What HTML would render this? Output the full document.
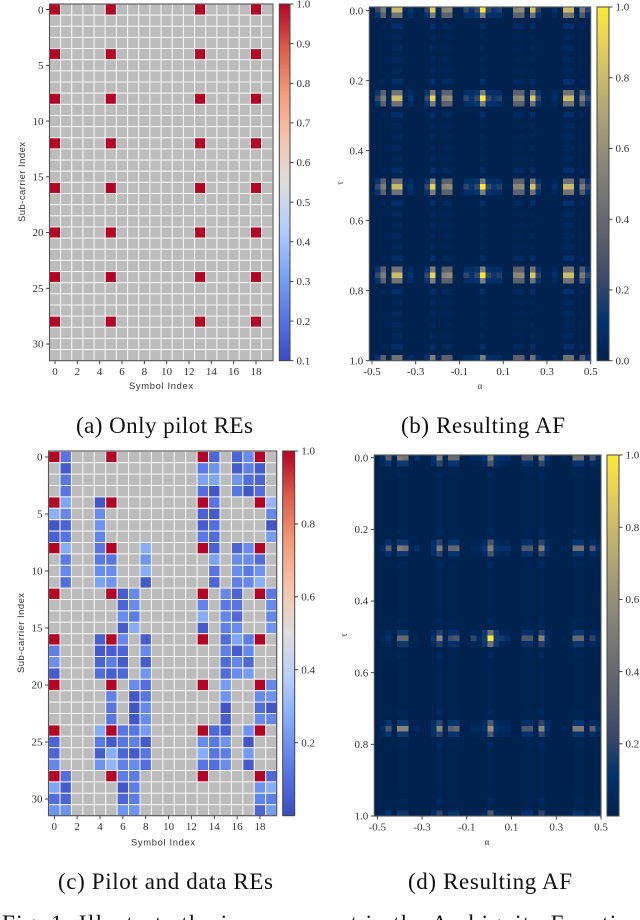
<!DOCTYPE html>
<html lang="en">
<head>
<meta charset="utf-8">
<title>Pilot patterns and ambiguity functions</title>
<style>
html,body{margin:0;padding:0;background:#fff;width:640px;height:920px;overflow:hidden}
svg{display:block}
text{font-family:"Liberation Serif",serif;fill:#333}
.caption{font-size:23px;fill:#111}
.sans{font-family:"Liberation Sans",sans-serif;fill:#333}
</style>
</head>
<body>
<svg id="fig" xmlns="http://www.w3.org/2000/svg" width="640" height="920" viewBox="0 0 640 920">
  <defs>
    <linearGradient id="coolwarm-gradient" x1="0" y1="1" x2="0" y2="0"></linearGradient>
    <linearGradient id="cividis-gradient" x1="0" y1="1" x2="0" y2="0"></linearGradient>
  </defs>
  <text class="caption" x="76" y="433" textLength="177">(a) Only pilot REs</text>
  <text class="caption" x="401" y="433" textLength="164">(b) Resulting AF</text>
  <text class="caption" x="58" y="889" textLength="215">(c) Pilot and data REs</text>
  <text class="caption" x="408" y="889" textLength="164">(d) Resulting AF</text>
  <text class="caption" x="2" y="931" textLength="640">Fig. 1: Illustrate the improvement in the Ambiguity Function</text>
</svg>
<script>
/* ---------- Panel (a) data ---------- */
const pilotSymbolsA = [0, 5, 13, 18];
const pilotCarriersA = [0, 4, 8, 12, 16, 20, 24, 28];
const pilotValueA = 1.0;

/* ---------- Panel (c) data: null = unused RE, 1 = pilot ---------- */
const _ = null;
const gridC = [
[1,.12,_,_,_,1,_,_,_,_,_,_,_,1,.08,_,.07,.18,1,_],
[_,.04,_,_,_,_,_,_,_,_,_,_,_,.13,.2,_,.05,.15,.05,_],
[_,.12,_,_,_,_,_,_,_,_,_,_,_,.24,.25,_,.2,.1,.07,_],
[_,.12,_,_,_,_,_,_,_,_,_,_,_,.1,.03,_,.12,.03,.1,_],
[1,.25,_,_,.03,1,_,_,_,_,_,_,_,1,.12,_,_,_,1,.3],
[.28,.17,_,_,.18,_,_,_,_,_,_,_,_,.06,.04,_,_,_,_,.17],
[.03,.07,_,_,.2,_,_,_,_,_,_,_,_,.05,.1,_,_,_,_,.03],
[.06,.12,_,_,.16,_,_,_,_,_,_,_,_,.13,.09,_,_,_,_,.22],
[1,.27,_,_,.12,1,_,_,.27,_,_,_,_,1,.06,_,.07,.18,1,_],
[_,.13,_,_,.13,.12,_,_,.2,_,_,_,_,_,.24,_,.18,.18,.1,_],
[_,.17,_,_,.18,.18,_,_,.27,_,_,_,_,_,.12,_,.18,.13,.2,_],
[_,.1,_,_,.24,.2,_,_,.04,_,_,_,_,_,.07,_,.15,.17,.28,_],
[1,_,_,_,_,1,.05,.17,_,_,_,_,_,1,_,.17,.07,_,1,.13],
[_,_,_,_,_,_,.07,.18,_,_,_,_,_,.16,_,.13,.12,_,_,.18],
[_,_,_,_,_,_,.18,.14,_,_,_,_,_,.27,_,.16,.08,_,_,.16],
[_,_,_,_,_,_,.05,.27,_,_,_,_,_,.05,_,.15,.18,_,_,.2],
[1,_,_,_,.06,1,.17,_,.05,_,_,_,_,1,_,.09,.25,.14,1,_],
[.15,_,_,_,.04,.05,.07,_,.17,_,_,_,_,_,_,.15,.05,.17,_,_],
[.19,_,_,_,.07,.14,.04,_,.05,_,_,_,_,_,_,.09,.16,.08,_,_],
[.04,_,_,_,.1,.05,.08,_,.2,_,_,_,_,_,_,.09,.18,.22,_,_],
[1,_,_,_,_,1,_,.18,.1,_,_,_,_,1,_,.22,_,_,1,.17],
[_,_,_,_,_,.15,_,.03,.12,_,_,_,_,_,_,.2,_,_,.18,.2],
[_,_,_,_,_,.12,_,.03,.17,_,_,_,_,_,_,.03,_,_,.1,.03],
[_,_,_,_,_,.12,_,.03,.18,_,_,_,_,_,_,.05,_,_,.18,.17],
[1,_,_,_,.27,1,.12,.12,.22,_,_,_,_,1,.08,.05,_,.2,1,_],
[.07,_,_,_,.13,.04,.12,.15,.04,_,_,_,_,.18,.13,.2,_,.03,_,_],
[.07,_,_,_,.05,.27,.07,.04,.12,_,_,_,_,.27,.12,.14,_,.22,_,_],
[.16,_,_,_,.2,.3,.15,.18,.1,_,_,_,_,.12,.1,.18,_,.04,_,_],
[1,.1,_,_,_,1,.14,.14,_,_,_,_,_,1,_,_,_,_,1,.08],
[.25,.05,_,_,_,_,.03,.14,_,_,_,_,_,_,_,_,_,_,.2,.27],
[.1,.07,_,_,_,_,.07,.14,_,_,_,_,_,_,_,_,_,_,.16,.14],
[.2,.2,_,_,_,_,.2,.2,_,_,_,_,_,_,_,_,_,_,.07,.22]
];

/* ---------- Panel (b) data: row profiles over 40 Doppler bins ---------- */
const afBMain = [0,.22,.5,.03,.8,.8,.03,.12,.01,.01,.22,.9,.05,.55,.58,.01,.01,.2,.12,.22,1,.22,.13,.18,.01,.01,.55,.58,.03,.85,.2,.01,.01,.1,.01,.8,.8,.03,.5,.2];
const afBNear = [0,.12,.36,.02,.45,.45,.02,.08,0,0,.12,.5,.03,.36,.36,0,0,.08,.08,.12,.5,.1,.08,.08,0,0,.36,.36,.02,.45,.1,0,0,.05,0,.45,.45,.02,.32,.1];
const afBSide = [0,0,.03,0,.1,.1,0,0,0,0,.01,.09,0,.05,.05,0,0,0,0,.01,.09,0,0,0,0,0,.05,.05,0,.08,0,0,0,0,0,.1,.1,0,.03,0];
const afBFaint = [0,0,.01,0,.04,.04,0,0,0,0,0,.04,0,.02,.02,0,0,0,0,0,.03,0,0,0,0,0,.02,.02,0,.03,0,0,0,0,0,.04,.04,0,.01,0];
const afBBlank = [0,0,0,0,.01,.01,0,0,0,0,0,.01,0,0,0,0,0,0,0,0,.01,0,0,0,0,0,0,0,0,.01,0,0,0,0,0,.01,.01,0,0,0];
const afBProfiles = [afBMain, afBNear, afBSide, afBFaint, afBBlank];
const afBRowProfile = [
0,1,4,2,4,3,4,3,4,3,4,3,4,2,4,1,
0,1,4,2,4,3,4,3,4,3,4,3,4,2,4,1,
0,1,4,2,4,3,4,3,4,3,4,3,4,2,4,1,
0,1,4,2,4,3,4,3,4,3,4,3,4,2,4,1
];

/* ---------- Panel (d) data ---------- */
const afDMain = [0,.08,.35,.01,.5,.45,.01,.1,0,0,.1,.5,.03,.4,.4,0,0,.06,.06,.12,.5,.12,.1,.1,0,0,.3,.3,.01,.5,.1,0,0,.04,0,.45,.45,.01,.3,.08];
const afDNear = [0,.03,.12,0,.14,.14,0,.01,0,0,.08,.2,.01,.12,.12,0,0,.02,.02,.06,.3,.06,.03,.03,0,0,.1,.1,0,.2,.05,0,0,0,0,.12,.12,0,.08,.03];
const afDCenter = [0,.04,.1,0,.4,.4,0,.03,0,0,.12,.55,.04,.25,.3,0,0,.2,.06,.15,1,.15,.15,.1,0,0,.3,.3,.01,.55,.08,0,0,.02,0,.4,.4,.01,.2,.06];
const afDCenterNear = [0,.02,.05,0,.14,.14,0,.01,0,0,.06,.18,.01,.1,.1,0,0,.03,.02,.14,.45,.14,.03,.02,0,0,.1,.1,0,.18,.04,0,0,0,0,.13,.13,0,.06,.02];
const afDLower = [0,.08,.3,.01,.55,.55,.01,.06,0,0,.1,.55,.03,.35,.4,0,0,.05,.05,.1,.6,.1,.06,.06,0,0,.3,.3,.01,.55,.1,0,0,.03,0,.5,.5,.01,.35,.1];
const afDSide = [0,0,.01,0,.03,.03,0,0,0,0,0,.05,0,.02,.02,0,0,0,0,0,.05,0,0,0,0,0,.02,.02,0,.05,0,0,0,0,0,.03,.03,0,.01,0];
const afDFaint = [0,0,0,0,.01,.01,0,0,0,0,0,.02,0,.01,.01,0,0,0,0,0,.02,0,0,0,0,0,.01,.01,0,.02,0,0,0,0,0,.01,.01,0,0,0];
const afDProfiles = [afDMain, afDNear, afDCenter, afDCenterNear, afDLower, afDSide, afDFaint];
const afDRowProfile = [
0,1,6,5,6,6,6,6,6,6,6,6,6,5,6,1,
0,1,6,5,6,6,6,6,6,6,6,6,6,5,6,3,
2,3,6,5,6,6,6,6,6,6,6,6,6,5,6,1,
4,1,6,5,6,6,6,6,6,6,6,6,6,5,6,1
];

/* ---------- Tick labels ---------- */
const symbolTicks = [0,2,4,6,8,10,12,14,16,18];
const carrierTicks = [0,5,10,15,20,25,30];
const alphaTicks = [-0.5,-0.3,-0.1,0.1,0.3,0.5];
const tauTicks = [0,0.2,0.4,0.6,0.8,1.0];
const colorbarTicksA = [0.1,0.2,0.3,0.4,0.5,0.6,0.7,0.8,0.9,1.0];
const colorbarTicksB = [0,0.2,0.4,0.6,0.8,1.0];
const colorbarTicksC = [0.2,0.4,0.6,0.8,1.0];
const colorbarTicksD = [0.2,0.4,0.6,0.8,1.0];

/* ---------- Colormaps ---------- */
const coolwarmStops = ['#3b4cc0','#5977e3','#7ea6f8','#b6cefa','#dddcdc','#f5c4ac','#f49a7b','#dc5d4a','#b40426'];
const cividisStops = ['#00224e','#00336f','#39486b','#575c6d','#707173','#8a8779','#a69d75','#c4b56c','#e4cf5b','#fee838'];
const emptyColor = '#bcbcbc';

function hexRgb(h){return [parseInt(h.slice(1,3),16),parseInt(h.slice(3,5),16),parseInt(h.slice(5,7),16)];}
function cmap(stops,t){
  t=Math.max(0,Math.min(1,t));
  const p=t*(stops.length-1),i=Math.min(Math.floor(p),stops.length-2),f=p-i;
  const a=hexRgb(stops[i]),b=hexRgb(stops[i+1]);
  return 'rgb('+a.map(function(v,k){return Math.round(v+(b[k]-v)*f);}).join(',')+')';
}
function linear(d0,d1,r0,r1){return function(v){return r0+(v-d0)/(d1-d0)*(r1-r0);};}

const NS='http://www.w3.org/2000/svg';
const fig=document.getElementById('fig');
function fillGradient(id,stops){
  const g=document.getElementById(id);
  stops.forEach(function(c,i){
    const s=document.createElementNS(NS,'stop');
    s.setAttribute('offset',i/(stops.length-1));
    s.setAttribute('stop-color',c);
    g.appendChild(s);
  });
}
fillGradient('coolwarm-gradient',coolwarmStops);
fillGradient('cividis-gradient',cividisStops);

function shape(parent,tag,props){
  const n=document.createElementNS(NS,tag);
  Object.keys(props).forEach(function(k){n.setAttribute(k,props[k]);});
  parent.appendChild(n);
  return n;
}
function panelGroup(panelName){
  const g=shape(fig,'g',{});
  
  
  return g;
}
function drawTicksX(g,ticks,xs,y,fmt){
  ticks.forEach(function(v){
    const t=shape(g,'line',{x1:xs(v),x2:xs(v),y1:y,y2:y+3.5,stroke:'#333','stroke-width':0.9});
    
    
    const l=shape(g,'text',{x:xs(v),y:y+14.5,'text-anchor':'middle','font-size':11});
    l.textContent=fmt(v);
    
    
  });
}
function drawTicksY(g,ticks,ys,x,fmt){
  ticks.forEach(function(v){
    const t=shape(g,'line',{x1:x-3.5,x2:x,y1:ys(v),y2:ys(v),stroke:'#333','stroke-width':0.9});
    
    
    const l=shape(g,'text',{x:x-6,y:ys(v)+3.7,'text-anchor':'end','font-size':11});
    l.textContent=fmt(v);
    
    
  });
}
function drawFrame(g,box){
  const f=shape(g,'rect',{x:box.x,y:box.y,width:box.w,height:box.h,fill:'none',stroke:'#555','stroke-width':1.1});
  
  
}
function drawColorbar(g,box,gradient,d0,d1,ticks){
  const bar=shape(g,'rect',{x:box.x,y:box.y,width:box.w,height:box.h,fill:'url(#'+gradient+')',stroke:'#444','stroke-width':1});
  
  
  const ys=linear(d0,d1,box.y+box.h,box.y);
  ticks.forEach(function(v){
    const t=shape(g,'line',{x1:box.x+box.w,x2:box.x+box.w+3.5,y1:ys(v),y2:ys(v),stroke:'#333','stroke-width':0.9});
    
    
    const l=shape(g,'text',{x:box.x+box.w+6.5,y:ys(v)+3.7,'font-size':11});
    l.textContent=v.toFixed(1);
    
    
  });
}
function drawResourceCell(g,xs,ys,col,row,val,cw,ch,vmin){
  const fill=val===null?emptyColor:cmap(coolwarmStops,(val-vmin)/(1-vmin));
  const r=shape(g,'rect',{x:xs(col)-cw/2,y:ys(row)-ch/2,width:cw,height:ch,fill:fill,stroke:'#f4f4f4','stroke-width':1});
  
  
}
function drawAf(g,box,rowProfile,profiles,xs,ys,xTicks,yTicks){
  const nRows=rowProfile.length;
  const cw=box.w/profiles[0].length,ch=box.h/nRows;
  rowProfile.forEach(function(kind,row){
    profiles[kind].forEach(function(val,col){
      const r=shape(g,'rect',{x:box.x+col*cw,y:box.y+row*ch,width:cw+0.4,height:ch+0.4,fill:cmap(cividisStops,val),'shape-rendering':'crispEdges'});
      
      
    });
  });
  drawFrame(g,box);
  drawTicksX(g,xTicks,xs,box.y+box.h,function(v){return v.toFixed(1);});
  drawTicksY(g,yTicks,ys,box.x,function(v){return v.toFixed(1);});
}
function axisTitle(g,str,x,y,size,name,len,rotate,cls){
  const t=shape(g,'text',{x:x,y:y,'font-size':size,'text-anchor':'middle'});
  if(len){t.setAttribute('textLength',len);}
  if(cls){t.setAttribute('class',cls);}
  if(rotate){t.setAttribute('transform','rotate(-90 '+x+' '+y+')');}
  t.textContent=str;
  
  
}

/* Panel (a) */
(function(){
  const g=panelGroup('pilot-grid-panel-a');
  const box={x:49.5,y:4,w:223.5,h:356.7};
  const xs=linear(0,18,55,256);
  const ys=linear(0,30,9.6,344);
  for(let r=0;r<32;r++){
    for(let c=0;c<20;c++){
      const isPilot=pilotSymbolsA.indexOf(c)>=0&&pilotCarriersA.indexOf(r)>=0;
      drawResourceCell(g,xs,ys,c,r,isPilot?pilotValueA:null,11.17,11.15,0.1);
    }
  }
  drawFrame(g,box);
  drawTicksX(g,symbolTicks,xs,box.y+box.h,String);
  drawTicksY(g,carrierTicks,ys,box.x,String);
  axisTitle(g,'Symbol Index',161,389,9.4,'x-axis-title',64,false,'sans');
  axisTitle(g,'Sub-carrier Index',25,182,9.4,'y-axis-title',80,true,'sans');
  drawColorbar(g,{x:279.3,y:4,w:10.7,h:356.7},'coolwarm-gradient',0.1,1,colorbarTicksA);
})();

/* Panel (b) */
(function(){
  const g=panelGroup('ambiguity-panel-b');
  const box={x:369.3,y:7,w:221.4,h:353.7};
  const xs=linear(-0.5,0.5,372,590.7);
  const ys=linear(0,1,10.7,360.7);
  drawAf(g,box,afBRowProfile,afBProfiles,xs,ys,alphaTicks,tauTicks);
  axisTitle(g,'α',480,389,9,'x-axis-title');
  axisTitle(g,'τ',343,183,9,'y-axis-title',0,true);
  drawColorbar(g,{x:597,y:7,w:12,h:353.7},'cividis-gradient',0,1,colorbarTicksB);
})();

/* Panel (c) */
(function(){
  const g=panelGroup('pilot-data-grid-panel-c');
  const box={x:48.5,y:451,w:228.2,h:364.7};
  const xs=linear(0,18,54.3,260);
  const ys=linear(0,30,457,799);
  gridC.forEach(function(rowVals,r){
    rowVals.forEach(function(val,c){
      drawResourceCell(g,xs,ys,c,r,val,11.43,11.4,0);
    });
  });
  drawFrame(g,box);
  drawTicksX(g,symbolTicks,xs,box.y+box.h,String);
  drawTicksY(g,carrierTicks,ys,box.x,String);
  axisTitle(g,'Symbol Index',163,845.5,9.4,'x-axis-title',64,false,'sans');
  axisTitle(g,'Sub-carrier Index',24,633,9.4,'y-axis-title',80,true,'sans');
  drawColorbar(g,{x:282.7,y:451,w:12,h:364.7},'coolwarm-gradient',0,1,colorbarTicksC);
})();

/* Panel (d) */
(function(){
  const g=panelGroup('ambiguity-panel-d');
  const box={x:374.3,y:455,w:226.7,h:361};
  const xs=linear(-0.5,0.5,377.3,601);
  const ys=linear(0,1,457.7,816);
  drawAf(g,box,afDRowProfile,afDProfiles,xs,ys,alphaTicks,tauTicks);
  axisTitle(g,'α',487,845,9,'x-axis-title');
  axisTitle(g,'τ',347,635,9,'y-axis-title',0,true);
  drawColorbar(g,{x:607,y:455,w:12,h:361},'cividis-gradient',0,1,colorbarTicksD);
})();
</script>
</body>
</html>
